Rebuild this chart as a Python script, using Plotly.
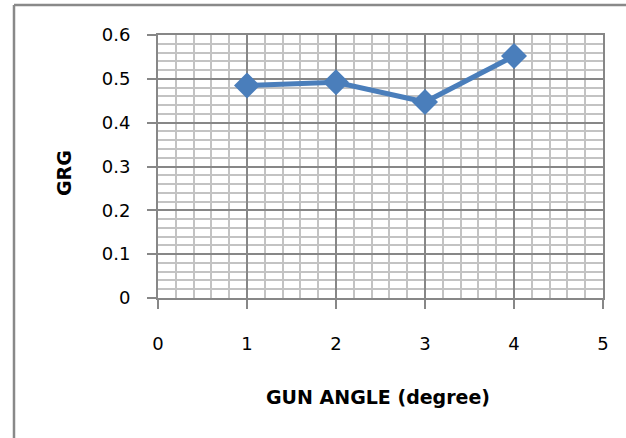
import plotly.graph_objects as go

# GRG versus gun angle
gun_angle = [1, 2, 3, 4]
grg = [0.485, 0.492, 0.447, 0.552]

x_ticks = [0, 1, 2, 3, 4, 5]
y_ticks = [0, 0.1, 0.2, 0.3, 0.4, 0.5, 0.6]
y_labels = ["0", "0.1", "0.2", "0.3", "0.4", "0.5", "0.6"]

FONT = "DejaVu Sans, Verdana, sans-serif"
MAJOR = "#878787"
MINOR = "#c3c3c3"
SERIES = "#4a7ebb"

fig = go.Figure()
fig.add_trace(go.Scatter(
    x=gun_angle, y=grg, mode="lines+markers",
    line=dict(color=SERIES, width=5),
    marker=dict(symbol="diamond", size=20, color=SERIES),
    showlegend=False, cliponaxis=False,
))

axis_common = dict(
    showline=True, linecolor=MAJOR, linewidth=2, mirror=True,
    showgrid=True, gridcolor=MAJOR, gridwidth=1.5,
    zeroline=False,
    ticks="outside", ticklen=9, tickwidth=1.5, tickcolor=MAJOR,
    tickfont=dict(family=FONT, size=18, color="#000"),
)

fig.update_xaxes(
    range=[0, 5], tickvals=x_ticks,
    minor=dict(dtick=0.2, showgrid=True, gridcolor=MINOR, gridwidth=1.5, ticks=""),
    ticklabelstandoff=19,
    **axis_common,
)
fig.update_yaxes(
    range=[0, 0.6], tickvals=y_ticks, ticktext=y_labels,
    minor=dict(dtick=0.02, showgrid=True, gridcolor=MINOR, gridwidth=1.5, ticks=""),
    ticklabelstandoff=13,
    **axis_common,
)

# axis titles
fig.add_annotation(text="<b>GUN ANGLE (degree)</b>", xref="paper", yref="paper",
                   x=0.494, y=-0.378, xanchor="center", yanchor="middle", showarrow=False,
                   font=dict(family=FONT, size=19, color="#000"))
fig.add_annotation(text="<b>GRG</b>", xref="paper", yref="paper", textangle=-90,
                   x=-0.2125, y=0.4766, xanchor="center", yanchor="middle", showarrow=False,
                   font=dict(family=FONT, size=19, color="#000"))

# chart frame (top and left edges)
fig.add_shape(type="line", xref="paper", yref="paper", x0=-0.3236, x1=1.06, y0=1.114, y1=1.114,
              line=dict(color="#898989", width=2.5), layer="above")
fig.add_shape(type="line", xref="paper", yref="paper", x0=-0.3236, x1=-0.3236, y0=1.114, y1=-0.56,
              line=dict(color="#898989", width=2.5), layer="above")

fig.update_layout(
    width=626, height=438,
    margin=dict(l=158, r=23, t=35, b=140),
    paper_bgcolor="white", plot_bgcolor="white",
)

fig.write_html("out.html")
